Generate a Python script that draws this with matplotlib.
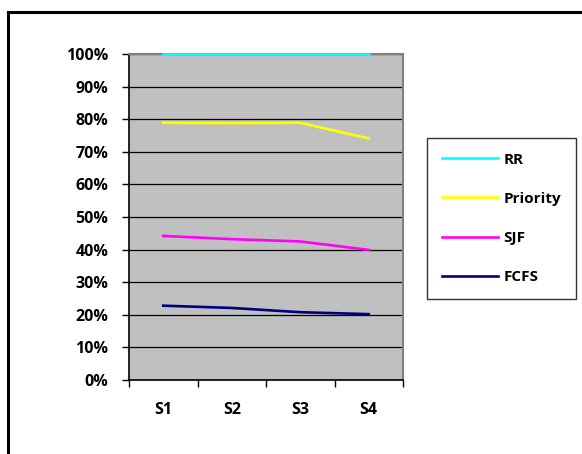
import numpy as np
import matplotlib.pyplot as plt
from matplotlib.lines import Line2D
from matplotlib.ticker import FixedLocator, FuncFormatter

plt.rcParams['font.family'] = ['Open Sans', 'DejaVu Sans']
plt.rcParams['font.weight'] = 'bold'

scenarios = ['S1', 'S2', 'S3', 'S4']
rr = [100, 100, 100, 100]
priority = [78.9, 78.8, 78.9, 74.1]
sjf = [44.2, 43.2, 42.5, 39.9]
fcfs = [22.8, 22.1, 20.8, 20.2]

W, H = 582, 454
fig = plt.figure(figsize=(W / 100, H / 100), dpi=100)
ax = fig.add_axes([129 / W, 1 - 380 / H, (403 - 129) / W, (380 - 54) / H])
ax.set_facecolor('#c0c0c0')

x = np.arange(len(scenarios)) + 0.5
ax.plot(x, rr, color='#00ffff', lw=1.9, label='RR', zorder=4, clip_on=False)
ax.plot(x, priority, color='#ffff00', lw=1.9, label='Priority', zorder=4)
ax.plot(x, sjf, color='#ff00ff', lw=1.9, label='SJF', zorder=4)
ax.plot(x, fcfs, color='#000080', lw=1.9, label='FCFS', zorder=4)

ax.set_xlim(0, 4)
ax.set_ylim(0, 100)
ax.yaxis.set_major_locator(FixedLocator(np.arange(0, 101, 10)))
ax.yaxis.set_major_formatter(FuncFormatter(lambda v, p: f'{v:.0f}%'))
ax.grid(axis='y', color='black', lw=0.9, zorder=1)
ax.set_axisbelow(True)

ax.set_xticks([0, 1, 2, 3, 4])
ax.set_xticklabels([])
ax.set_xticks(x, minor=True)
ax.set_xticklabels(scenarios, minor=True)
ax.tick_params(axis='x', which='minor', length=0, pad=16, labelsize=11.5)
ax.tick_params(axis='x', which='major', direction='out', length=5, width=1, color='black')
ax.tick_params(axis='y', direction='out', length=5, width=1, color='black', pad=10, labelsize=11.5)

for side in ['top', 'right']:
    ax.spines[side].set_color('#808080')
    ax.spines[side].set_linewidth(1.5)
for side in ['left', 'bottom']:
    ax.spines[side].set_color('black')
    ax.spines[side].set_linewidth(1.2)

leg = fig.legend(loc='upper left', bbox_to_anchor=(427 / W, 1 - 138 / H),
                 fontsize=11, frameon=True, fancybox=False, shadow=False,
                 handlelength=3.7, handletextpad=0.35, labelspacing=1.65,
                 borderpad=0.95, borderaxespad=0)
leg.get_frame().set_edgecolor('black')
leg.get_frame().set_linewidth(1.0)

# outer chart frame
fig.add_artist(Line2D([8 / W, 1], [1 - 12 / H, 1 - 12 / H], color='black', lw=2.2, transform=fig.transFigure))
fig.add_artist(Line2D([8 / W, 8 / W], [0, 1 - 12 / H], color='black', lw=2.2, transform=fig.transFigure))

fig.savefig('out.png', dpi=100)
